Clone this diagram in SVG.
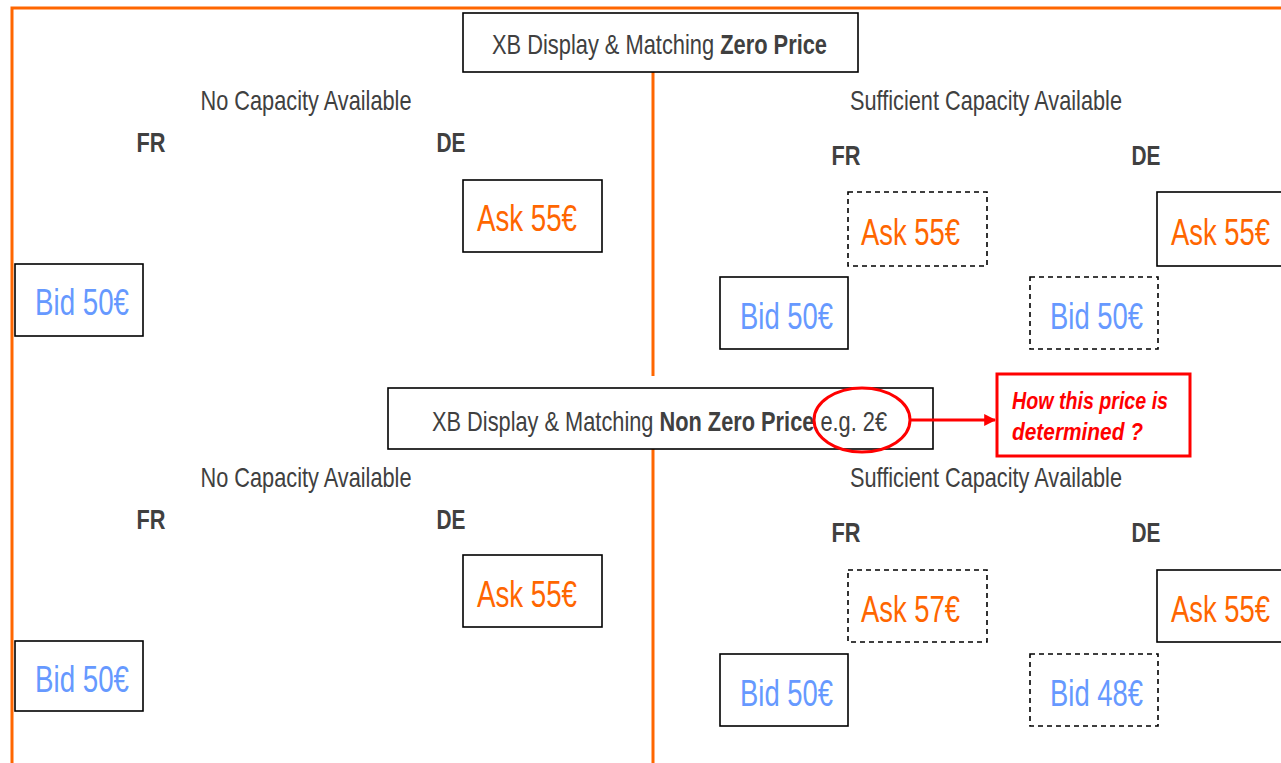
<svg xmlns="http://www.w3.org/2000/svg" width="1281" height="763" viewBox="0 0 1281 763">
<defs>
<style>
.frame{fill:none;stroke:#FF6600;stroke-width:3}
.box{fill:#fff;stroke:#000;stroke-width:1.6}
.dash{fill:#fff;stroke:#000;stroke-width:1.6;stroke-dasharray:5 4}
.t{font-family:"Liberation Sans Narrow","Liberation Sans",Arial,sans-serif;fill:#404040}
.h{font-size:28px}
.b{font-weight:bold}
.cc{font-size:28px}
.ask{font-family:"Liberation Sans Narrow","Liberation Sans",Arial,sans-serif;font-size:37px;fill:#FF6600}
.bid{font-family:"Liberation Sans Narrow","Liberation Sans",Arial,sans-serif;font-size:37px;fill:#6699FF}
.red{font-family:"Liberation Sans Narrow","Liberation Sans",Arial,sans-serif;font-size:23px;font-weight:bold;font-style:italic;fill:#FF0000}
</style>
<marker id="arr" viewBox="0 0 10 10" refX="9" refY="5" markerWidth="4" markerHeight="4" orient="auto" markerUnits="strokeWidth">
<path d="M0,0 L10,5 L0,10 z" fill="#FF0000"/>
</marker>
</defs>
<rect width="1281" height="763" fill="#fff"/>
<g id="frame">
<path class="frame" d="M12,763 V8 H1281"/>
<line class="frame" x1="653" y1="72" x2="653" y2="376"/>
<line class="frame" x1="653" y1="449" x2="653" y2="763"/>
</g>

<g id="title-zero">
<rect class="box" x="463" y="13" width="395" height="59"/>
<text class="t h" x="492" y="54" textLength="335" lengthAdjust="spacingAndGlyphs">XB Display &amp; Matching <tspan class="b">Zero Price</tspan></text>
</g>

<g id="top-left">
<text class="t cc" x="306" y="110" text-anchor="middle" textLength="211" lengthAdjust="spacingAndGlyphs">No Capacity Available</text>
<text class="t cc b" x="151" y="152" text-anchor="middle" textLength="29" lengthAdjust="spacingAndGlyphs">FR</text>
<text class="t cc b" x="451" y="152" text-anchor="middle" textLength="29" lengthAdjust="spacingAndGlyphs">DE</text>
</g>
<g id="tl-ask"><rect class="box" x="463" y="180" width="139" height="72"/><text class="ask" x="477" y="231" textLength="100" lengthAdjust="spacingAndGlyphs">Ask 55€</text></g>
<g id="tl-bid"><rect class="box" x="15" y="264" width="128" height="72"/><text class="bid" x="35" y="315" textLength="94" lengthAdjust="spacingAndGlyphs">Bid 50€</text></g>

<g id="top-right">
<text class="t cc" x="986" y="110" text-anchor="middle" textLength="272" lengthAdjust="spacingAndGlyphs">Sufficient Capacity Available</text>
<text class="t cc b" x="846" y="165" text-anchor="middle" textLength="29" lengthAdjust="spacingAndGlyphs">FR</text>
<text class="t cc b" x="1146" y="165" text-anchor="middle" textLength="29" lengthAdjust="spacingAndGlyphs">DE</text>
</g>
<g id="tr-ask-fr"><rect class="dash" x="848" y="192" width="139" height="74"/><text class="ask" x="861" y="245" textLength="99" lengthAdjust="spacingAndGlyphs">Ask 55€</text></g>
<g id="tr-ask-de"><rect class="box" x="1157" y="192" width="130" height="74"/><text class="ask" x="1171" y="245" textLength="99" lengthAdjust="spacingAndGlyphs">Ask 55€</text></g>
<g id="tr-bid-fr"><rect class="box" x="720" y="277" width="128" height="72"/><text class="bid" x="740" y="329" textLength="93" lengthAdjust="spacingAndGlyphs">Bid 50€</text></g>
<g id="tr-bid-de"><rect class="dash" x="1030" y="277" width="128" height="72"/><text class="bid" x="1050" y="329" textLength="93" lengthAdjust="spacingAndGlyphs">Bid 50€</text></g>

<g id="title-nonzero">
<rect class="box" x="388" y="388" width="545" height="61"/>
<text class="t h" x="432" y="431" textLength="455" lengthAdjust="spacingAndGlyphs">XB Display &amp; Matching <tspan class="b">Non Zero Price</tspan> e.g. 2€</text>
<ellipse cx="862" cy="420" rx="48" ry="32" fill="none" stroke="#FF0000" stroke-width="3"/>
</g>

<g id="question">
<rect x="997" y="374" width="193" height="82" fill="#fff" stroke="#FF0000" stroke-width="3"/>
<text class="red" x="1012" y="409" textLength="156" lengthAdjust="spacingAndGlyphs">How this price is</text>
<text class="red" x="1012" y="440" textLength="131" lengthAdjust="spacingAndGlyphs">determined ?</text>
</g>

<g id="connectors">
<line x1="910" y1="420" x2="995" y2="420" stroke="#FF0000" stroke-width="3" marker-end="url(#arr)"/>
</g>

<g id="bottom-left">
<text class="t cc" x="306" y="487" text-anchor="middle" textLength="211" lengthAdjust="spacingAndGlyphs">No Capacity Available</text>
<text class="t cc b" x="151" y="529" text-anchor="middle" textLength="29" lengthAdjust="spacingAndGlyphs">FR</text>
<text class="t cc b" x="451" y="529" text-anchor="middle" textLength="29" lengthAdjust="spacingAndGlyphs">DE</text>
</g>
<g id="bl-ask"><rect class="box" x="463" y="555" width="139" height="72"/><text class="ask" x="477" y="607" textLength="100" lengthAdjust="spacingAndGlyphs">Ask 55€</text></g>
<g id="bl-bid"><rect class="box" x="15" y="641" width="128" height="70"/><text class="bid" x="35" y="692" textLength="94" lengthAdjust="spacingAndGlyphs">Bid 50€</text></g>

<g id="bottom-right">
<text class="t cc" x="986" y="487" text-anchor="middle" textLength="272" lengthAdjust="spacingAndGlyphs">Sufficient Capacity Available</text>
<text class="t cc b" x="846" y="542" text-anchor="middle" textLength="29" lengthAdjust="spacingAndGlyphs">FR</text>
<text class="t cc b" x="1146" y="542" text-anchor="middle" textLength="29" lengthAdjust="spacingAndGlyphs">DE</text>
</g>
<g id="br-ask-fr"><rect class="dash" x="848" y="570" width="139" height="72"/><text class="ask" x="861" y="622" textLength="99" lengthAdjust="spacingAndGlyphs">Ask 57€</text></g>
<g id="br-ask-de"><rect class="box" x="1157" y="570" width="130" height="72"/><text class="ask" x="1171" y="622" textLength="99" lengthAdjust="spacingAndGlyphs">Ask 55€</text></g>
<g id="br-bid-fr"><rect class="box" x="720" y="654" width="128" height="72"/><text class="bid" x="740" y="706" textLength="93" lengthAdjust="spacingAndGlyphs">Bid 50€</text></g>
<g id="br-bid-de"><rect class="dash" x="1030" y="654" width="128" height="72"/><text class="bid" x="1050" y="706" textLength="93" lengthAdjust="spacingAndGlyphs">Bid 48€</text></g>
</svg>
